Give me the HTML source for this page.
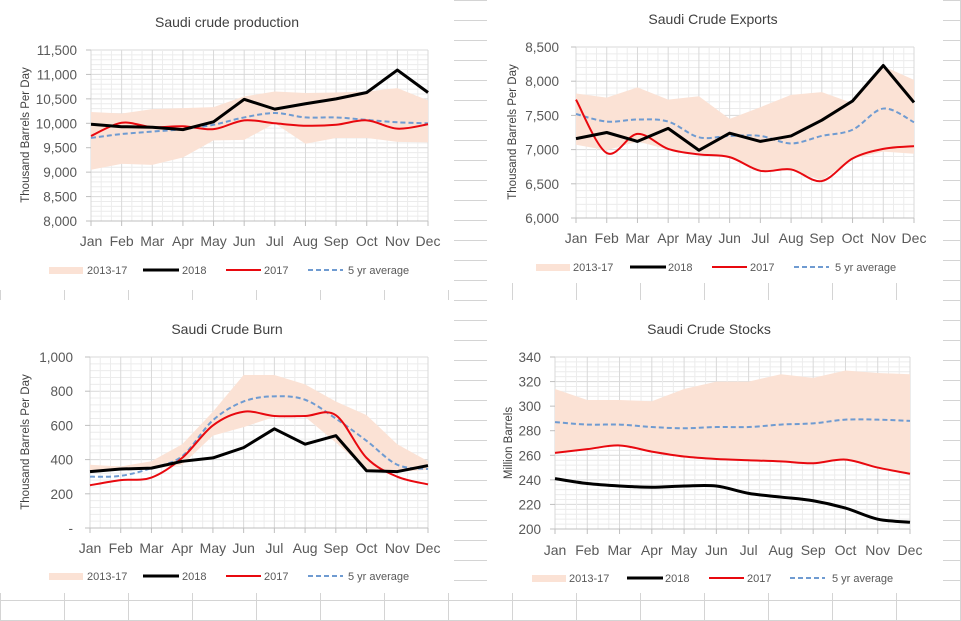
<!DOCTYPE html>
<html><head><meta charset="utf-8"><style>
body{margin:0;background:#fff;}
svg{display:block;font-family:"Liberation Sans",sans-serif;}
</style></head><body>
<svg id="c" width="961" height="621" xmlns="http://www.w3.org/2000/svg"></svg>
<script>
const months=["Jan","Feb","Mar","Apr","May","Jun","Jul","Aug","Sep","Oct","Nov","Dec"];
// Production
const prod2018=[9980,9930,9920,9870,10030,10490,10290,10400,10500,10630,11090,10630];
const prod2017=[9740,10010,9920,9940,9880,10060,10000,9950,9970,10060,9890,9980];
const prodAvg=[9700,9780,9830,9880,9970,10120,10210,10120,10120,10070,10020,10000];
const prodLow=[9050,9170,9150,9300,9650,9660,10000,9580,9700,9700,9620,9610];
const prodHigh=[10230,10200,10290,10310,10330,10550,10650,10620,10630,10650,10720,10470];
const prodTicks=[8000,8500,9000,9500,10000,10500,11000,11500];
const prodTickLabels=["8,000","8,500","9,000","9,500","10,000","10,500","11,000","11,500"];
// Exports
const exp2018=[7160,7250,7120,7310,6990,7240,7120,7200,7430,7710,8230,7690];
const exp2017=[7730,6950,7230,7010,6930,6890,6690,6710,6540,6870,7010,7050];
const expAvg=[7520,7410,7440,7410,7180,7200,7200,7090,7200,7290,7600,7400];
const expLow=[7070,6990,7120,7000,6950,6900,6680,6700,6550,6870,6970,6940];
const expHigh=[7820,7760,7910,7730,7780,7450,7620,7800,7840,7680,8220,8020];
const expTicks=[6000,6500,7000,7500,8000,8500];
const expTickLabels=["6,000","6,500","7,000","7,500","8,000","8,500"];
// Burn
const burn2018=[330,345,350,390,410,470,580,490,540,335,330,365];
const burn2017=[250,280,295,410,600,680,655,655,660,410,300,255];
const burnAvg=[300,305,350,420,630,740,770,750,640,510,370,345];
const burnLow=[330,340,345,370,540,590,650,650,500,340,330,340];
const burnHigh=[370,360,390,490,680,895,895,840,740,660,490,390];
const burnTicks=[0,200,400,600,800,1000];
const burnTickLabels=["-","200","400","600","800","1,000"];
// Stocks
const stk2018=[241,237,235,234,235,235,229,226,223,217,208,205.5];
const stk2017=[262,265,268,263,259,257,256,255,253.5,256.5,250,245];
const stkAvg=[287,285,285,283,282,283,283,285,286,289,289,288];
const stkLow=[262,265,268,263,259,257,256,255,253.5,256.5,250,245];
const stkHigh=[314,305,305,304,314,320,320,326,323,329,327,326];
const stkTicks=[200,220,240,260,280,300,320,340];
const stkTickLabels=["200","220","240","260","280","300","320","340"];

const NS="http://www.w3.org/2000/svg";
const svg=document.getElementById('c');
function mk(tag,attrs,parent,txt){const e=document.createElementNS(NS,tag);for(const k in attrs)e.setAttribute(k,attrs[k]);if(txt!==undefined)e.textContent=txt;(parent||svg).appendChild(e);return e;}

const bg=mk('g',{});


for(let x=0;x<=961;x+=64)mk('line',{x1:x+0.5,y1:0,x2:x+0.5,y2:621,stroke:'#d4d4d4'},bg);
for(let y=0;y<=621;y+=20)mk('line',{x1:0,y1:y+0.5,x2:961,y2:y+0.5,stroke:'#d4d4d4'},bg);

function smooth(pts){let d=`M${pts[0][0]},${pts[0][1]}`;for(let i=0;i<pts.length-1;i++){const p0=pts[i-1]||pts[i],p1=pts[i],p2=pts[i+1],p3=pts[i+2]||p2;const c1=[p1[0]+(p2[0]-p0[0])/6,p1[1]+(p2[1]-p0[1])/6],c2=[p2[0]-(p3[0]-p1[0])/6,p2[1]-(p3[1]-p1[1])/6];d+=` C${c1[0]},${c1[1]} ${c2[0]},${c2[1]} ${p2[0]},${p2[1]}`;}return d;}
function poly(pts){return 'M'+pts.map(p=>p.join(',')).join(' L');}

const panels=[
 {name:'production',box:[0,0,454,290],title:'Saudi crude production',tx:227,ty:27,x0:91,x1:428,y0:221,y1:50,min:8000,max:11500,ticks:prodTicks,tl:prodTickLabels,lx:77,yt:'Thousand Barrels Per Day',ytx:25,yty:135,mly:246,legY:270,leg:[49,87,143,182,226,264,308,348],s18:prod2018,s17:prod2017,avg:prodAvg,lo:prodLow,hi:prodHigh,sm18:false},
 {name:'exports',box:[487,0,456,283],title:'Saudi Crude Exports',tx:713,ty:24,x0:576,x1:914,y0:218,y1:47,min:6000,max:8500,ticks:expTicks,tl:expTickLabels,lx:559,yt:'Thousand Barrels Per Day',ytx:512,yty:132,mly:243,legY:267,leg:[536,573,630,668,712,750,794,835],s18:exp2018,s17:exp2017,avg:expAvg,lo:expLow,hi:expHigh,sm18:false},
 {name:'burn',box:[0,300,454,293],title:'Saudi Crude Burn',tx:227,ty:334,x0:90,x1:428,y0:528,y1:357,min:0,max:1000,ticks:burnTicks,tl:burnTickLabels,lx:73,yt:'Thousand Barrels Per Day',ytx:25,yty:442,mly:553,legY:576,leg:[49,87,143,182,226,264,308,348],s18:burn2018,s17:burn2017,avg:burnAvg,lo:burnLow,hi:burnHigh,sm18:false},
 {name:'stocks',box:[487,300,456,293],title:'Saudi Crude Stocks',tx:709,ty:334,x0:555,x1:910,y0:529,y1:357,min:200,max:340,ticks:stkTicks,tl:stkTickLabels,lx:541,yt:'Million Barrels',ytx:508,yty:443,mly:555,legY:578,leg:[532,569,627,665,709,747,790,832],s18:stk2018,s17:stk2017,avg:stkAvg,lo:stkLow,hi:stkHigh,sm18:true}
];

panels.forEach(P=>{
 const g=mk('g',{});
 
 
 mk('rect',{x:P.box[0],y:P.box[1],width:P.box[2],height:P.box[3],fill:'#fff'},g);
 const X=i=>P.x0+(P.x1-P.x0)*i/11;
 const Y=v=>P.y0+(P.y1-P.y0)*(v-P.min)/(P.max-P.min);
 const nT=P.ticks.length-1;
 for(let k=0;k<=nT*5;k++){const y=P.y0+(P.y1-P.y0)*k/(nT*5);mk('line',{x1:P.x0,x2:P.x1,y1:y,y2:y,stroke:k%5?'#ececec':'#d9d9d9'},g);}
 for(let k=0;k<=33;k++){const x=P.x0+(P.x1-P.x0)*k/33;mk('line',{x1:x,x2:x,y1:P.y0,y2:P.y1,stroke:k%3?'#ececec':'#d9d9d9'},g);}
 const hiPts=P.hi.map((v,i)=>[X(i),Y(v)]),loPts=P.lo.map((v,i)=>[X(i),Y(v)]).reverse();
 const band=mk('path',{d:poly(hiPts)+' L'+loPts.map(p=>p.join(',')).join(' L')+' Z',fill:'#fbe2d5'},g);
 
 
 mk('line',{x1:P.x0,x2:P.x1,y1:P.y0,y2:P.y0,stroke:'#bfbfbf'},g);
 P.ticks.forEach((t,i)=>{const y=Y(t);mk('line',{x1:P.x0-5,x2:P.x0,y1:y,y2:y,stroke:'#bfbfbf'},g);
  const tl=mk('text',{x:P.lx,y:y+5,'text-anchor':'end','font-size':'13.5',fill:'#595959'},g,P.tl[i]);
  
  });
 months.forEach((m,i)=>{const x=X(i);mk('line',{x1:x,x2:x,y1:P.y0,y2:P.y0+5,stroke:'#bfbfbf'},g);
  const ml=mk('text',{x:x,y:P.mly,'text-anchor':'middle','font-size':'14',fill:'#595959'},g,m);
  
  });
 const pts=a=>a.map((v,i)=>[X(i),Y(v)]);
 const av=mk('path',{d:smooth(pts(P.avg)),fill:'none',stroke:'#6f9bd1','stroke-width':2,'stroke-dasharray':'5,3'},g);
 
 
 const r=mk('path',{d:smooth(pts(P.s17)),fill:'none',stroke:'#e8090f','stroke-width':2},g);
 
 
 const b=mk('path',{d:P.sm18?smooth(pts(P.s18)):poly(pts(P.s18)),fill:'none',stroke:'#000','stroke-width':3,'stroke-linejoin':'round'},g);
 
 
 const t=mk('text',{x:P.tx,y:P.ty,'text-anchor':'middle','font-size':'14',fill:'#404040'},g,P.title);
 
 
 const yt=mk('text',{x:0,y:0,'text-anchor':'middle','font-size':'11.5',fill:'#404040',transform:`translate(${P.ytx+4},${P.yty}) rotate(-90)`},g,P.yt);
 
 
 const L=P.leg,ly=P.legY;
 const lg=mk('g',{},g);
 
 
 mk('rect',{x:L[0],y:ly-3,width:34,height:7,fill:'#fbe2d5'},lg);
 mk('text',{x:L[1],y:ly+4,'font-size':'11',fill:'#595959'},lg,'2013-17');
 mk('line',{x1:L[2],x2:L[2]+36,y1:ly,y2:ly,stroke:'#000','stroke-width':3},lg);
 mk('text',{x:L[3],y:ly+4,'font-size':'11',fill:'#595959'},lg,'2018');
 mk('line',{x1:L[4],x2:L[4]+35,y1:ly,y2:ly,stroke:'#e8090f','stroke-width':2},lg);
 mk('text',{x:L[5],y:ly+4,'font-size':'11',fill:'#595959'},lg,'2017');
 mk('line',{x1:L[6],x2:L[6]+35,y1:ly,y2:ly,stroke:'#6f9bd1','stroke-width':2,'stroke-dasharray':'5,3'},lg);
 mk('text',{x:L[7],y:ly+4,'font-size':'11',fill:'#595959'},lg,'5 yr average');
});
</script>
</body></html>
